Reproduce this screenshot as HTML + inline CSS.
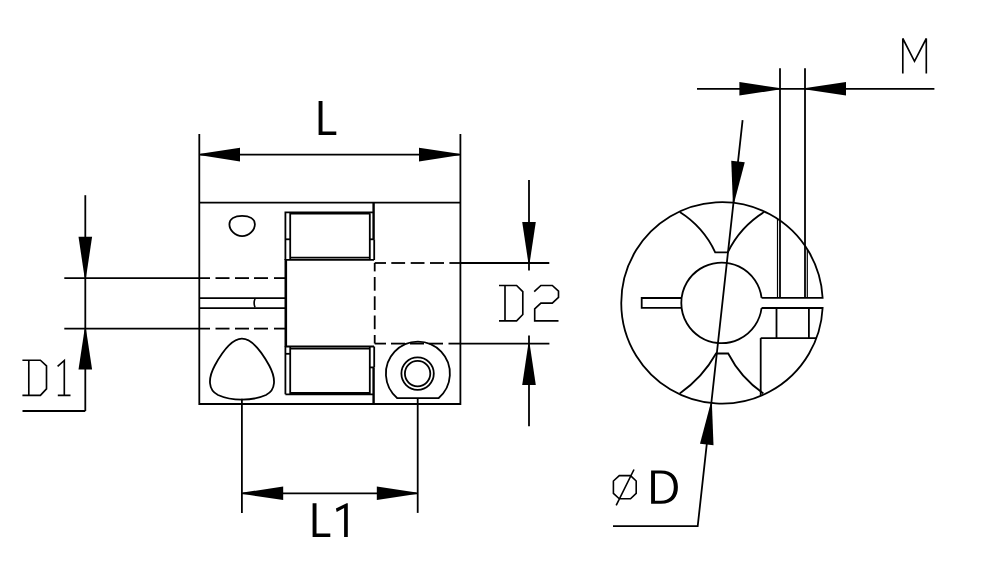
<!DOCTYPE html>
<html><head><meta charset="utf-8"><style>
html,body{margin:0;padding:0;background:#fff;width:1000px;height:578px;overflow:hidden;font-family:"Liberation Sans",sans-serif}
svg{display:block}
</style></head><body>
<svg width="1000" height="578" viewBox="0 0 1000 578" stroke="#000" fill="none" stroke-linecap="butt" stroke-linejoin="miter">
<rect width="1000" height="578" fill="#fff" stroke="none"/>
<path d="M199.3,134 L199.3,404.0 L460.4,404.0 L460.4,134" stroke-width="1.8" fill="none"/>
<line x1="199.30" y1="202.60" x2="460.40" y2="202.60" stroke-width="1.8"/>
<line x1="199.30" y1="154.60" x2="460.40" y2="154.60" stroke-width="1.8"/>
<polygon points="200.60,155.35 240.00,161.40 240.00,147.80 200.60,153.85" fill="#000" stroke="none"/>
<polygon points="459.10,153.85 419.00,147.80 419.00,161.40 459.10,155.35" fill="#000" stroke="none"/>
<polygon points="318.60,101.00 322.50,101.00 322.50,131.40 336.30,131.40 336.30,135.00 318.60,135.00" fill="#000" stroke="none"/>
<path d="M242.1,215.8 C249.3,215.8 254.9,218.6 254.9,224.2 C254.9,230.3 249,236.1 242.1,236.1 C235.2,236.1 229.4,230.3 229.4,224.2 C229.4,218.6 234.9,215.8 242.1,215.8 Z" stroke-width="1.8" fill="none"/>
<path d="M285.4,260 L285.4,212.3 L374,212.3" stroke-width="1.8" fill="none"/>
<line x1="290.20" y1="212.80" x2="290.20" y2="259.50" stroke-width="1.8"/>
<line x1="290.20" y1="213.20" x2="369.80" y2="213.20" stroke-width="2.6"/>
<line x1="369.80" y1="213.20" x2="369.80" y2="259.50" stroke-width="1.8"/>
<line x1="285.40" y1="259.80" x2="374.00" y2="259.80" stroke-width="1.8"/>
<line x1="290.20" y1="257.60" x2="369.80" y2="257.60" stroke-width="1.8"/>
<line x1="285.40" y1="239.30" x2="290.20" y2="239.30" stroke-width="1.8"/>
<line x1="369.80" y1="239.30" x2="374.00" y2="239.30" stroke-width="1.8"/>
<line x1="373.60" y1="202.60" x2="373.60" y2="239.30" stroke-width="2.4"/>
<line x1="374.20" y1="239.30" x2="374.20" y2="260.00" stroke-width="1.8"/>
<line x1="285.80" y1="259.00" x2="285.80" y2="347.00" stroke-width="2.6"/>
<line x1="285.40" y1="346.50" x2="374.00" y2="346.50" stroke-width="1.8"/>
<line x1="290.20" y1="348.60" x2="369.80" y2="348.60" stroke-width="1.8"/>
<line x1="285.40" y1="346.50" x2="285.40" y2="394.30" stroke-width="1.8"/>
<line x1="290.20" y1="347.00" x2="290.20" y2="394.00" stroke-width="1.8"/>
<line x1="369.80" y1="347.00" x2="369.80" y2="394.00" stroke-width="1.8"/>
<line x1="374.20" y1="346.50" x2="374.20" y2="367.40" stroke-width="1.8"/>
<line x1="373.60" y1="367.40" x2="373.60" y2="404.00" stroke-width="2.4"/>
<line x1="285.40" y1="394.30" x2="374.00" y2="394.30" stroke-width="1.8"/>
<line x1="290.20" y1="393.40" x2="369.80" y2="393.40" stroke-width="2.6"/>
<line x1="285.40" y1="353.80" x2="290.20" y2="353.80" stroke-width="1.8"/>
<line x1="369.80" y1="367.40" x2="374.00" y2="367.40" stroke-width="1.8"/>
<line x1="199.30" y1="298.20" x2="285.80" y2="298.20" stroke-width="1.8"/>
<line x1="199.30" y1="308.10" x2="285.80" y2="308.10" stroke-width="1.8"/>
<path d="M255.0,298.8 Q253.2,303.1 255.0,307.4" stroke-width="1.6" fill="none"/>
<line x1="64.30" y1="278.10" x2="210.00" y2="278.10" stroke-width="1.8"/>
<line x1="215.50" y1="278.10" x2="229.50" y2="278.10" stroke-width="1.8"/>
<line x1="235.00" y1="278.10" x2="249.00" y2="278.10" stroke-width="1.8"/>
<line x1="254.00" y1="278.10" x2="268.00" y2="278.10" stroke-width="1.8"/>
<line x1="274.00" y1="278.10" x2="285.00" y2="278.10" stroke-width="1.8"/>
<line x1="64.30" y1="328.60" x2="210.00" y2="328.60" stroke-width="1.8"/>
<line x1="215.50" y1="328.60" x2="229.50" y2="328.60" stroke-width="1.8"/>
<line x1="235.00" y1="328.60" x2="249.00" y2="328.60" stroke-width="1.8"/>
<line x1="254.00" y1="328.60" x2="268.00" y2="328.60" stroke-width="1.8"/>
<line x1="274.00" y1="328.60" x2="285.00" y2="328.60" stroke-width="1.8"/>
<line x1="374.70" y1="263.00" x2="386.00" y2="263.00" stroke-width="1.8"/>
<line x1="391.30" y1="263.00" x2="405.10" y2="263.00" stroke-width="1.8"/>
<line x1="410.70" y1="263.00" x2="424.50" y2="263.00" stroke-width="1.8"/>
<line x1="430.00" y1="263.00" x2="444.00" y2="263.00" stroke-width="1.8"/>
<line x1="449.40" y1="263.00" x2="460.00" y2="263.00" stroke-width="1.8"/>
<line x1="374.70" y1="343.60" x2="386.00" y2="343.60" stroke-width="1.8"/>
<line x1="391.00" y1="343.60" x2="405.00" y2="343.60" stroke-width="1.8"/>
<line x1="410.00" y1="343.60" x2="424.00" y2="343.60" stroke-width="1.8"/>
<line x1="429.30" y1="343.60" x2="443.00" y2="343.60" stroke-width="1.8"/>
<line x1="448.50" y1="343.60" x2="460.00" y2="343.60" stroke-width="1.8"/>
<line x1="374.70" y1="263.00" x2="374.70" y2="271.40" stroke-width="1.8"/>
<line x1="374.70" y1="277.00" x2="374.70" y2="290.70" stroke-width="1.8"/>
<line x1="374.70" y1="296.30" x2="374.70" y2="310.00" stroke-width="1.8"/>
<line x1="374.70" y1="315.50" x2="374.70" y2="329.20" stroke-width="1.8"/>
<line x1="374.70" y1="335.00" x2="374.70" y2="343.50" stroke-width="1.8"/>
<path d="M241.9,338.7 C231.5,338.7 222.5,351.5 214.8,365.5 C207.8,378.5 208,390 218,395 C226,398.6 235,399.6 241.9,399.6 C249,399.6 258,398.6 266,395 C276,390 276.2,378.5 269.2,365.5 C261.5,351.5 252.5,338.7 241.9,338.7 Z" stroke-width="1.8" fill="none"/>
<path d="M397.31,398.2 A32.0,32.0 0 1 1 438.49,398.2 Z" stroke-width="1.8" fill="none"/>
<circle cx="417.6" cy="373.6" r="16.2" fill="none" stroke-width="1.8"/>
<circle cx="417.6" cy="373.6" r="12.7" fill="none" stroke-width="1.8"/>
<line x1="241.90" y1="398.80" x2="241.90" y2="512.90" stroke-width="1.8"/>
<line x1="417.70" y1="398.20" x2="417.70" y2="512.90" stroke-width="1.8"/>
<line x1="241.90" y1="493.30" x2="417.70" y2="493.30" stroke-width="1.8"/>
<polygon points="243.10,494.05 283.20,500.10 283.20,486.50 243.10,492.55" fill="#000" stroke="none"/>
<polygon points="416.50,492.55 376.80,486.50 376.80,500.10 416.50,494.05" fill="#000" stroke="none"/>
<polygon points="312.60,503.20 316.50,503.20 316.50,533.40 330.30,533.40 330.30,536.90 312.60,536.90" fill="#000" stroke="none"/>
<polygon points="347.80,503.20 347.80,536.90 344.10,536.90 344.10,508.00 336.70,512.00 335.90,508.40 346.60,503.20" fill="#000" stroke="none"/>
<line x1="85.30" y1="195.20" x2="85.30" y2="411.00" stroke-width="1.8"/>
<line x1="22.50" y1="411.00" x2="85.30" y2="411.00" stroke-width="1.8"/>
<polygon points="86.05,277.30 92.10,236.70 78.50,236.70 84.55,277.30" fill="#000" stroke="none"/>
<polygon points="84.55,329.40 78.50,369.50 92.10,369.50 86.05,329.40" fill="#000" stroke="none"/>
<path d="M22.4,360.2 L40.4,360.2 L46.5,365.9 L46.5,388.9 L40.4,395.4 L22.4,395.4 M28.8,360.2 L28.8,395.4" stroke-width="1.65" fill="none"/>
<path d="M57.6,366.4 L64.3,360.5 L64.3,395.4 M57.8,395.4 L70.5,395.4" stroke-width="1.65" fill="none"/>
<line x1="460.50" y1="263.00" x2="549.30" y2="263.00" stroke-width="1.8"/>
<line x1="460.50" y1="343.60" x2="549.40" y2="343.60" stroke-width="1.8"/>
<line x1="529.00" y1="180.00" x2="529.00" y2="270.50" stroke-width="1.8"/>
<line x1="529.00" y1="335.60" x2="529.00" y2="426.20" stroke-width="1.8"/>
<polygon points="529.75,262.20 535.80,221.90 522.20,221.90 528.25,262.20" fill="#000" stroke="none"/>
<polygon points="528.25,344.40 522.20,385.00 535.80,385.00 529.75,344.40" fill="#000" stroke="none"/>
<path d="M499,285.5 L516.6,285.5 L522.8,291.7 L522.8,314.5 L516.6,320.9 L499,320.9 M505,285.5 L505,320.9" stroke-width="1.65" fill="none"/>
<path d="M534.2,291.7 L540.9,285.5 L552.3,285.5 L558.5,291.2 L558.5,297.4 L552.3,303.1 L540.9,303.1 L534.7,308.8 L534.7,320.9 L558.5,320.9" stroke-width="1.65" fill="none"/>
<path d="M761.58,297.8 A40.3,40.3 0 1 0 761.58,308.0" stroke-width="1.8" fill="none"/>
<path d="M681.60,298.0 L641.7,298.0 L641.7,307.9 L681.61,307.9" stroke-width="1.8" fill="none"/>
<path d="M761.58,297.8 L822.62,297.8 A100.75,100.75 0 1 0 822.62,308.0 L761.58,308.0" stroke-width="1.8" fill="none"/>
<path d="M679.75,212.1 A95.6,95.6 0 0 1 715.2,252.3 L727.8,252.3 A98.1,98.1 0 0 1 764.1,212.1" stroke-width="1.8" fill="none"/>
<path d="M679.75,393.4 A119.5,119.5 0 0 0 716.05,353.5 L728.2,353.5 A107.4,107.4 0 0 0 763.4,393.4" stroke-width="1.8" fill="none"/>
<line x1="780.00" y1="68.20" x2="780.00" y2="297.80" stroke-width="1.8"/>
<line x1="805.00" y1="68.20" x2="805.00" y2="297.80" stroke-width="1.8"/>
<line x1="777.50" y1="218.86" x2="777.50" y2="297.80" stroke-width="1.2"/>
<line x1="807.30" y1="249.34" x2="807.30" y2="297.80" stroke-width="1.2"/>
<line x1="776.50" y1="308.00" x2="776.50" y2="338.10" stroke-width="1.8"/>
<line x1="808.90" y1="308.00" x2="808.90" y2="338.10" stroke-width="1.8"/>
<line x1="760.70" y1="338.10" x2="816.42" y2="338.10" stroke-width="1.8"/>
<line x1="760.70" y1="338.10" x2="760.70" y2="395.97" stroke-width="1.8"/>
<line x1="697.00" y1="88.80" x2="934.40" y2="88.80" stroke-width="1.8"/>
<polygon points="779.20,88.05 739.40,82.00 739.40,95.60 779.20,89.55" fill="#000" stroke="none"/>
<polygon points="805.80,89.55 846.00,95.60 846.00,82.00 805.80,88.05" fill="#000" stroke="none"/>
<path d="M902.8,73.4 L902.8,38.5 L914.5,61.3 L926.3,38.5 L926.3,73.4" stroke-width="1.65" fill="none"/>
<path d="M742.6,120.2 L697.7,526.2 L613,526.2" stroke-width="1.8" fill="none"/>
<polygon points="734.32,201.89 744.78,162.35 731.26,160.85 732.83,201.72" fill="#000" stroke="none"/>
<polygon points="710.44,404.21 699.99,443.75 713.50,445.25 711.94,404.38" fill="#000" stroke="none"/>
<path d="M619.3,475.6 L630.5,475.6 L636.2,481 L636.2,493.3 L630.5,498.8 L619.3,498.8 L613.4,493.3 L613.4,481 Z M616.2,505.3 L634,469.5" stroke-width="1.6" fill="none"/>
<path d="M651.1,470.5 L661,470.5 C673,470.5 677.9,477.5 677.9,487.1 C677.9,496.8 673,503.8 661,503.8 L651.1,503.8 Z M655,473.5 L660.8,473.5 C669.8,473.5 673.8,479 673.8,487.1 C673.8,495.3 669.8,500.8 660.8,500.8 L655,500.8 Z" stroke="none" fill="#000" fill-rule="evenodd"/>
</svg>
</body></html>
